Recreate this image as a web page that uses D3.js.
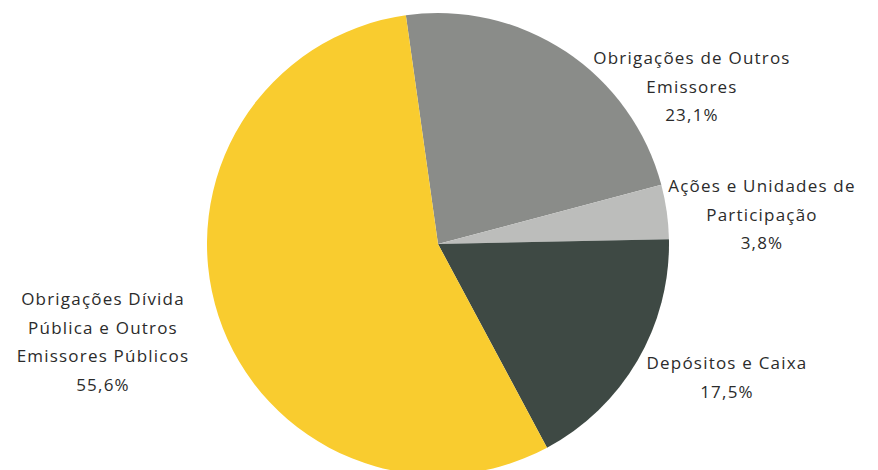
<!DOCTYPE html>
<html><head><meta charset="utf-8">
<script src="https://cdn.jsdelivr.net/npm/d3@7"></script>
<style>html,body{margin:0;padding:0;background:#fff;}svg{display:block;}</style>
</head><body>
<svg id="chart" width="878" height="470"></svg>
<script>
const categories = ["Obrigações de Outros Emissores", "Ações e Unidades de Participação", "Depósitos e Caixa", "Obrigações Dívida Pública e Outros Emissores Públicos"];
const values = [23.1, 3.8, 17.5, 55.6];
const valueLabels = ["23,1%", "3,8%", "17,5%", "55,6%"];
const labelLines = [["Obrigações de Outros", "Emissores"], ["Ações e Unidades de", "Participação"], ["Depósitos e Caixa"], ["Obrigações Dívida", "Pública e Outros", "Emissores Públicos"]];
const colors = ["#8a8c89", "#bcbdbb", "#3e4944", "#f9cc2f"];

const svg = d3.select("#chart");
const cx = 438, cy = 244, r = 231;
const startA = -8 * Math.PI / 180;

const pie = d3.pie().sort(null).value(d => d)
  .startAngle(startA).endAngle(startA + 2 * Math.PI);
const arcs = pie(values);
const arc = d3.arc().innerRadius(0).outerRadius(r);

const g = svg.append("g").attr("transform", `translate(${cx},${cy})`);
g.selectAll("path").data(arcs).enter().append("path")
  .attr("d", arc).attr("fill", (d, i) => colors[i]);

// label anchor (centre of first line), relative to pie centre
const labelAnchor = [[254, -186], [324, -58], [289, 119], [-335, 55]];
const lh = 28.7;
arcs.forEach((a, i) => {
  const lines = labelLines[i].concat([valueLabels[i]]);
  const t = g.append("text")
    .attr("text-anchor", "middle")
    .attr("font-family", "'Open Sans', sans-serif")
    .attr("font-size", 17)
    .attr("letter-spacing", 1.2)
    .attr("fill", "#2b2b2b");
  lines.forEach((ln, j) => {
    t.append("tspan").attr("x", labelAnchor[i][0]).attr("y", labelAnchor[i][1] + j * lh)
      .attr("dy", "0.35em").text(ln);
  });
});
</script>
</body></html>
